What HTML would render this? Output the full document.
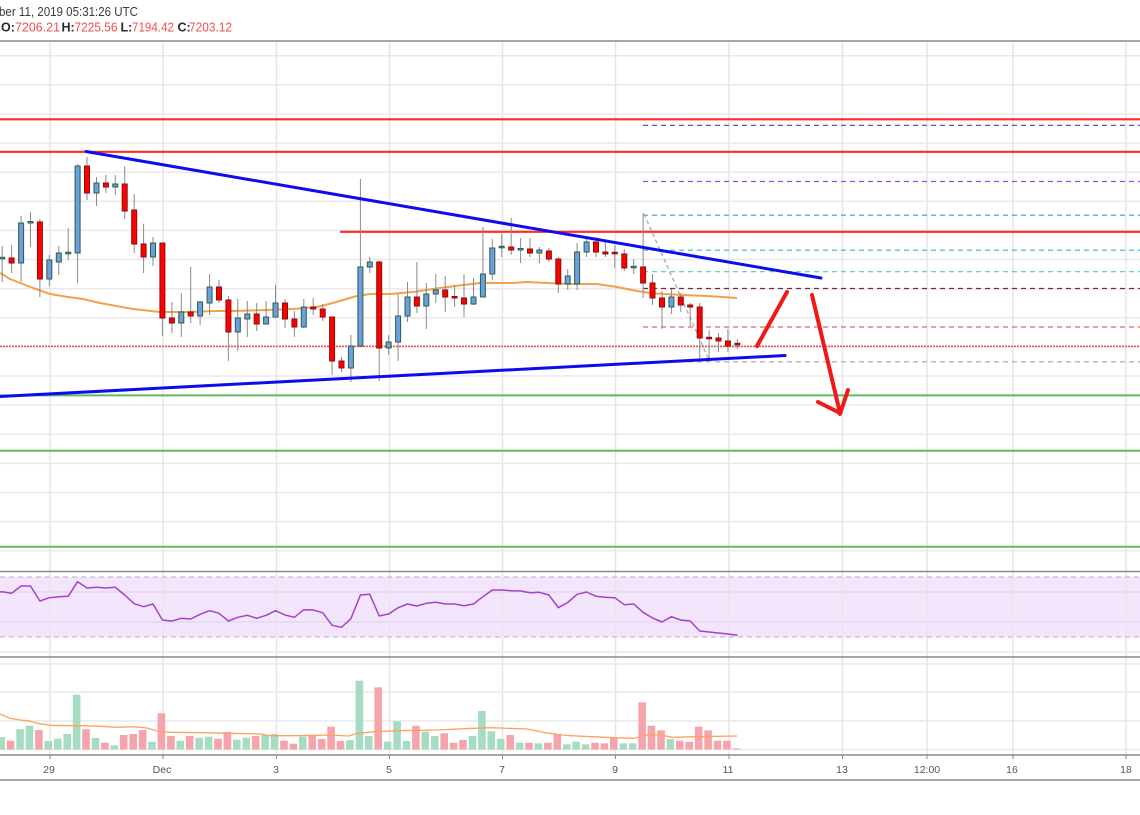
<!DOCTYPE html>
<html>
<head>
<meta charset="utf-8">
<style>
html,body{margin:0;padding:0;background:#fff;}
body{width:1140px;height:815px;overflow:hidden;}
svg{display:block;font-family:"Liberation Sans",Arial,sans-serif;}
.b{fill:#6b9fdf;stroke:#2f5d4a;stroke-width:1}
.r{fill:#ff0000;stroke:#8a1010;stroke-width:1}
.vg{fill:#a6dcc2}
.vr{fill:#f5a4ab}
</style>
</head>
<body>
<svg width="1140" height="815" viewBox="0 0 1140 815" xmlns="http://www.w3.org/2000/svg">
<rect x="0" y="0" width="1140" height="815" fill="#fff"/>

<!-- header -->
<text x="-1" y="16" font-size="12.5" fill="#3a3a3a" textLength="139" lengthAdjust="spacingAndGlyphs">ber 11, 2019 05:31:26 UTC</text>
<g font-size="12.5">
<text x="1" y="31.5" fill="#2a2a2a" font-weight="bold">O:</text>
<text x="15" y="31.5" fill="#ef4f4f" textLength="45" lengthAdjust="spacingAndGlyphs">7206.21</text>
<text x="61.5" y="31.5" fill="#2a2a2a" font-weight="bold">H:</text>
<text x="74.5" y="31.5" fill="#ef4f4f" textLength="43" lengthAdjust="spacingAndGlyphs">7225.56</text>
<text x="120.5" y="31.5" fill="#2a2a2a" font-weight="bold">L:</text>
<text x="132" y="31.5" fill="#ef4f4f" textLength="42" lengthAdjust="spacingAndGlyphs">7194.42</text>
<text x="177.5" y="31.5" fill="#2a2a2a" font-weight="bold">C:</text>
<text x="189" y="31.5" fill="#ef4f4f" textLength="43" lengthAdjust="spacingAndGlyphs">7203.12</text>
</g>

<!-- RSI band -->
<rect x="0" y="577" width="1140" height="60" fill="#f3e6fc"/>

<!-- grid horizontal main -->
<g stroke="#e9e9e9" stroke-width="1.5">
<line x1="0" y1="55.7" x2="1140" y2="55.7"/>
<line x1="0" y1="84.8" x2="1140" y2="84.8"/>
<line x1="0" y1="113.9" x2="1140" y2="113.9"/>
<line x1="0" y1="143.1" x2="1140" y2="143.1"/>
<line x1="0" y1="172.2" x2="1140" y2="172.2"/>
<line x1="0" y1="201.3" x2="1140" y2="201.3"/>
<line x1="0" y1="230.4" x2="1140" y2="230.4"/>
<line x1="0" y1="259.5" x2="1140" y2="259.5"/>
<line x1="0" y1="288.7" x2="1140" y2="288.7"/>
<line x1="0" y1="317.8" x2="1140" y2="317.8"/>
<line x1="0" y1="346.9" x2="1140" y2="346.9"/>
<line x1="0" y1="376" x2="1140" y2="376"/>
<line x1="0" y1="405.1" x2="1140" y2="405.1"/>
<line x1="0" y1="434.3" x2="1140" y2="434.3"/>
<line x1="0" y1="463.4" x2="1140" y2="463.4"/>
<line x1="0" y1="492.5" x2="1140" y2="492.5"/>
<line x1="0" y1="521.6" x2="1140" y2="521.6"/>
<line x1="0" y1="550.7" x2="1140" y2="550.7"/>
<!-- RSI grid -->
<line x1="0" y1="592" x2="1140" y2="592" stroke="#e4d8ee"/>
<line x1="0" y1="622" x2="1140" y2="622" stroke="#e4d8ee"/>
<line x1="0" y1="652" x2="1140" y2="652"/>
<!-- volume grid -->
<line x1="0" y1="664" x2="1140" y2="664"/>
<line x1="0" y1="692" x2="1140" y2="692"/>
<line x1="0" y1="721" x2="1140" y2="721"/>
<line x1="0" y1="749.5" x2="1140" y2="749.5"/>
</g>
<!-- grid vertical -->
<g stroke="#e6e6e6" stroke-width="1.5">
<line x1="50" y1="41" x2="50" y2="755"/>
<line x1="163" y1="41" x2="163" y2="755"/>
<line x1="276.5" y1="41" x2="276.5" y2="755"/>
<line x1="389.5" y1="41" x2="389.5" y2="755"/>
<line x1="502.5" y1="41" x2="502.5" y2="755"/>
<line x1="615.5" y1="41" x2="615.5" y2="755"/>
<line x1="729" y1="41" x2="729" y2="755"/>
<line x1="842.5" y1="41" x2="842.5" y2="755"/>
<line x1="927" y1="41" x2="927" y2="755"/>
<line x1="1013" y1="41" x2="1013" y2="755"/>
<line x1="1126" y1="41" x2="1126" y2="755"/>
</g>

<!-- RSI dashed bounds -->
<g stroke="#c9b6d6" stroke-width="1.2" stroke-dasharray="5,4">
<line x1="0" y1="577" x2="1140" y2="577"/>
<line x1="0" y1="637" x2="1140" y2="637"/>
</g>

<!-- panel borders -->
<g stroke="#8a8a8a" stroke-width="1.5">
<line x1="0" y1="41" x2="1140" y2="41"/>
<line x1="0" y1="571.5" x2="1140" y2="571.5"/>
<line x1="0" y1="657" x2="1140" y2="657"/>
<line x1="0" y1="755" x2="1140" y2="755"/>
<line x1="0" y1="780" x2="1140" y2="780"/>
</g>
<!-- axis ticks -->
<g stroke="#8a8a8a" stroke-width="1">
<line x1="50" y1="755" x2="50" y2="759"/>
<line x1="163" y1="755" x2="163" y2="759"/>
<line x1="276.5" y1="755" x2="276.5" y2="759"/>
<line x1="389.5" y1="755" x2="389.5" y2="759"/>
<line x1="502.5" y1="755" x2="502.5" y2="759"/>
<line x1="615.5" y1="755" x2="615.5" y2="759"/>
<line x1="729" y1="755" x2="729" y2="759"/>
<line x1="842.5" y1="755" x2="842.5" y2="759"/>
<line x1="927" y1="755" x2="927" y2="759"/>
<line x1="1013" y1="755" x2="1013" y2="759"/>
<line x1="1126" y1="755" x2="1126" y2="759"/>
</g>
<!-- axis labels -->
<g font-size="10.5" fill="#555" text-anchor="middle">
<text x="49" y="773">29</text>
<text x="162" y="773">Dec</text>
<text x="276" y="773">3</text>
<text x="389" y="773">5</text>
<text x="502" y="773">7</text>
<text x="615" y="773">9</text>
<text x="728" y="773">11</text>
<text x="842" y="773">13</text>
<text x="927" y="773">12:00</text>
<text x="1012" y="773">16</text>
<text x="1126" y="773">18</text>
</g>

<!-- horizontal S/R lines -->
<g stroke="#ff2a2a" stroke-width="2.2">
<line x1="0" y1="119.3" x2="1140" y2="119.3"/>
<line x1="0" y1="151.8" x2="1140" y2="151.8"/>
<line x1="340" y1="231.8" x2="1140" y2="231.8"/>
</g>
<g stroke="#5fba60" stroke-width="2">
<line x1="0" y1="395.4" x2="1140" y2="395.4"/>
<line x1="0" y1="450.8" x2="1140" y2="450.8"/>
<line x1="0" y1="546.8" x2="1140" y2="546.8"/>
</g>

<!-- fib dashed lines -->
<g stroke-width="1.2" stroke-dasharray="5,4">
<line x1="643" y1="125.3" x2="1140" y2="125.3" stroke="#4545b0"/>
<line x1="643" y1="181.5" x2="1140" y2="181.5" stroke="#a046d0"/>
<line x1="643" y1="215.2" x2="1140" y2="215.2" stroke="#4a92c8"/>
<line x1="643" y1="250.2" x2="1140" y2="250.2" stroke="#40aee2"/>
<line x1="643" y1="271.7" x2="1140" y2="271.7" stroke="#4fd0a2"/>
<line x1="643" y1="288.5" x2="1140" y2="288.5" stroke="#7a2545"/>
<line x1="643" y1="327" x2="1140" y2="327" stroke="#e26464"/>
<line x1="643" y1="361.8" x2="1140" y2="361.8" stroke="#a5a5a5"/>
</g>
<line x1="644" y1="214" x2="709" y2="360" stroke="#aaaaaa" stroke-width="1.3" stroke-dasharray="4,3"/>

<!-- current price dotted -->
<line x1="0" y1="346.3" x2="1140" y2="346.3" stroke="#f25555" stroke-width="1.6" stroke-dasharray="2,1"/>

<!-- volume bars -->
<g>
<rect class="vg" x="-2.6" y="737" width="7.6" height="12.5"/>
<rect class="vr" x="6.8" y="740.7" width="7.6" height="8.8"/>
<rect class="vg" x="16.3" y="729.3" width="7.6" height="20.2"/>
<rect class="vg" x="25.7" y="725.7" width="7.6" height="23.8"/>
<rect class="vr" x="35.1" y="730" width="7.6" height="19.5"/>
<rect class="vg" x="44.5" y="741" width="7.6" height="8.5"/>
<rect class="vg" x="54" y="738.7" width="7.6" height="10.8"/>
<rect class="vg" x="63.4" y="734" width="7.6" height="15.5"/>
<rect class="vg" x="72.8" y="694.7" width="7.6" height="54.8"/>
<rect class="vr" x="82.2" y="729.3" width="7.6" height="20.2"/>
<rect class="vg" x="91.7" y="738" width="7.6" height="11.5"/>
<rect class="vr" x="101.1" y="742.7" width="7.6" height="6.8"/>
<rect class="vg" x="110.5" y="745.3" width="7.6" height="4.2"/>
<rect class="vr" x="119.9" y="735" width="7.6" height="14.5"/>
<rect class="vr" x="129.4" y="734" width="7.6" height="15.5"/>
<rect class="vr" x="138.8" y="730" width="7.6" height="19.5"/>
<rect class="vg" x="148.2" y="741.7" width="7.6" height="7.8"/>
<rect class="vr" x="157.6" y="713.3" width="7.6" height="36.2"/>
<rect class="vr" x="167.1" y="736" width="7.6" height="13.5"/>
<rect class="vg" x="176.5" y="740.7" width="7.6" height="8.8"/>
<rect class="vr" x="185.9" y="736" width="7.6" height="13.5"/>
<rect class="vg" x="195.3" y="737.7" width="7.6" height="11.8"/>
<rect class="vg" x="204.8" y="736.7" width="7.6" height="12.8"/>
<rect class="vr" x="214.2" y="738.7" width="7.6" height="10.8"/>
<rect class="vr" x="223.6" y="732" width="7.6" height="17.5"/>
<rect class="vg" x="233" y="739.7" width="7.6" height="9.8"/>
<rect class="vg" x="242.5" y="737.7" width="7.6" height="11.8"/>
<rect class="vr" x="251.9" y="736" width="7.6" height="13.5"/>
<rect class="vg" x="261.3" y="735" width="7.6" height="14.5"/>
<rect class="vg" x="270.7" y="734" width="7.6" height="15.5"/>
<rect class="vr" x="280.2" y="740.7" width="7.6" height="8.8"/>
<rect class="vr" x="289.6" y="743.7" width="7.6" height="5.8"/>
<rect class="vg" x="299" y="736.7" width="7.6" height="12.8"/>
<rect class="vr" x="308.4" y="735" width="7.6" height="14.5"/>
<rect class="vr" x="317.9" y="739" width="7.6" height="10.5"/>
<rect class="vr" x="327.3" y="726.7" width="7.6" height="22.8"/>
<rect class="vr" x="336.7" y="741" width="7.6" height="8.5"/>
<rect class="vg" x="346.1" y="740" width="7.6" height="9.5"/>
<rect class="vg" x="355.6" y="680.7" width="7.6" height="68.8"/>
<rect class="vg" x="365" y="736" width="7.6" height="13.5"/>
<rect class="vr" x="374.4" y="687.3" width="7.6" height="62.2"/>
<rect class="vg" x="383.8" y="741.7" width="7.6" height="7.8"/>
<rect class="vg" x="393.3" y="721.3" width="7.6" height="28.2"/>
<rect class="vg" x="402.7" y="741" width="7.6" height="8.5"/>
<rect class="vr" x="412.1" y="725.7" width="7.6" height="23.8"/>
<rect class="vg" x="421.5" y="731.7" width="7.6" height="17.8"/>
<rect class="vg" x="431" y="736" width="7.6" height="13.5"/>
<rect class="vr" x="440.4" y="733.3" width="7.6" height="16.2"/>
<rect class="vr" x="449.8" y="742.7" width="7.6" height="6.8"/>
<rect class="vr" x="459.2" y="740" width="7.6" height="9.5"/>
<rect class="vg" x="468.7" y="736" width="7.6" height="13.5"/>
<rect class="vg" x="478.1" y="711" width="7.6" height="38.5"/>
<rect class="vg" x="487.5" y="731.3" width="7.6" height="18.2"/>
<rect class="vg" x="496.9" y="739" width="7.6" height="10.5"/>
<rect class="vr" x="506.4" y="735" width="7.6" height="14.5"/>
<rect class="vg" x="515.8" y="742.7" width="7.6" height="6.8"/>
<rect class="vr" x="525.2" y="742.7" width="7.6" height="6.8"/>
<rect class="vg" x="534.6" y="743.3" width="7.6" height="6.2"/>
<rect class="vr" x="544.1" y="742.7" width="7.6" height="6.8"/>
<rect class="vr" x="553.5" y="734" width="7.6" height="15.5"/>
<rect class="vg" x="562.9" y="744.3" width="7.6" height="5.2"/>
<rect class="vg" x="572.3" y="741.7" width="7.6" height="7.8"/>
<rect class="vg" x="581.8" y="744.3" width="7.6" height="5.2"/>
<rect class="vr" x="591.2" y="742.7" width="7.6" height="6.8"/>
<rect class="vr" x="600.6" y="743.3" width="7.6" height="6.2"/>
<rect class="vr" x="610" y="737.3" width="7.6" height="12.2"/>
<rect class="vg" x="619.5" y="743.3" width="7.6" height="6.2"/>
<rect class="vg" x="628.9" y="743.3" width="7.6" height="6.2"/>
<rect class="vr" x="638.3" y="702.3" width="7.6" height="47.2"/>
<rect class="vr" x="647.7" y="725.7" width="7.6" height="23.8"/>
<rect class="vr" x="657.2" y="730.3" width="7.6" height="19.2"/>
<rect class="vg" x="666.6" y="739" width="7.6" height="10.5"/>
<rect class="vr" x="676" y="740.7" width="7.6" height="8.8"/>
<rect class="vr" x="685.4" y="741.7" width="7.6" height="7.8"/>
<rect class="vr" x="694.9" y="726.7" width="7.6" height="22.8"/>
<rect class="vr" x="704.3" y="730.3" width="7.6" height="19.2"/>
<rect class="vr" x="713.7" y="740.7" width="7.6" height="8.8"/>
<rect class="vr" x="723.1" y="740.7" width="7.6" height="8.8"/>
<rect class="vr" x="732.6" y="748.3" width="7.6" height="1.2"/>
</g>
<!-- volume MA -->
<polyline fill="none" stroke="#ffa060" stroke-width="1.3" points="0,714 10,718.3 20,720 28,720.7 37,723.3 50,725.3 67,725.7 83,725.7 100,726.3 117,727.3 133,726.7 147,728 160,731.7 173,732.3 200,732.7 233,733.3 260,734 270,735.7 300,735.7 327,735 349,736 358,733.3 374.5,731.7 400,730.7 436,730 473,728.3 491,727.7 527,729 545.5,732.7 562,735 570,735.7 592,736.7 614,737.7 634,738.3 646,735 661,735 672,737.3 697,736.7 737,736"/>

<!-- RSI line -->
<polyline fill="none" stroke="#a443c8" stroke-width="1.5" stroke-linejoin="round" points="0,592 2.2,591.7 11.6,593.3 21.1,586 30.5,586 39.9,601 49.3,597.7 58.8,596.7 68.2,596.3 77.6,581.7 87,588 96.5,587.3 105.9,588 115.3,587.3 124.7,595 134.2,603.7 143.6,606.7 153,604 162.4,620 171.9,621 181.3,618.3 190.7,619 200.1,614.3 209.6,610.7 219,613.3 228.4,621 237.8,617.3 247.3,615.3 256.7,618.3 266.1,615.3 275.5,610.7 285,615 294.4,617.3 303.8,609.7 313.2,610 322.7,612.7 332.1,625.3 341.5,627.3 350.9,618.7 360.4,595 369.8,594.3 379.2,616 388.6,614 398.1,607.7 407.5,604 416.9,606 426.3,603.3 435.8,602.3 445.2,604 454.6,604 464,605.7 473.5,604 482.9,596.7 492.3,590 501.7,590 511.2,590.7 520.6,591 530,592.7 539.4,592.3 548.9,595 558.3,607.7 567.7,602.5 577.1,594.3 586.6,592 596,596.3 605.4,597.3 614.8,597.7 624.3,604.7 633.7,604 643.1,612.3 652.5,618 662,622 671.4,616.7 680.8,620 690.2,621 699.7,631 709.1,632 718.5,633 727.9,634 737.4,635.3"/>

<!-- EMA -->
<polyline fill="none" stroke="#f3a04c" stroke-width="2" stroke-linejoin="round" points="0,273 10,279 33,288 50,294 68,297 83,299 100,303 133,309 160,312 187,312 217,311 233,311 267,310 293,309 317,307 333,303 343,300 357,296 370,294 390,294 413,292 440,288 463,285 480,283 513,283 527,282 547,283 570,284 597,284 617,287 637,291 650,293 663,294 683,295 707,296 737,298"/>

<!-- wicks -->
<path fill="none" stroke="#8a8a8a" stroke-width="1" d="M2.2 246V282M11.6 245V273M21.1 216V282M30.5 212V247M39.9 219V297M49.3 255V286M58.8 246V275M68.2 228V260M77.6 164V283M87 157V200M96.5 177V206M105.9 175V193M115.3 175V195M124.7 166V219M134.2 194V253M143.6 224V273M153 237V266M162.4 243V336M171.9 302V333M181.3 293V337M190.7 267V323M200.1 301V325M209.6 274V315M219 280V303M228.4 296V361M237.8 299V351M247.3 301V337M256.7 303V331M266.1 301V324M275.5 285V317M285 299V328M294.4 311V337M303.8 299V328M313.2 298V315M322.7 304V321M332.1 317V375M341.5 357V372M350.9 335V382M360.4 179V347M369.8 257V273M379.2 261V381M388.6 335V355M398.1 294V361M407.5 282V322M416.9 262V313M426.3 283V329M435.8 274V303M445.2 276V312M454.6 285V307M464 274V317M473.5 278V305M482.9 227V297M492.3 239V280M501.7 234V257M511.2 218V255M520.6 238V263M530 238V257M539.4 247V263M548.9 248V262M558.3 257V293M567.7 269V290M577.1 243V290M586.6 237V257M596 237V257M605.4 242V257M614.8 245V268M624.3 249V271M633.7 259V274M643.1 213V298M652.5 274V305M662 291V329M671.4 289V314M680.8 293V312M690.2 303V326M699.7 303V361M709.1 330V361M718.5 333V352M727.9 329V352M737.4 339V349"/>

<!-- bodies -->
<g>
<rect class="b" x="-0.3" y="257.3" width="5" height="1.5"/>
<rect class="r" x="9.1" y="258" width="5" height="5"/>
<rect class="b" x="18.6" y="223" width="5" height="40"/>
<rect class="b" x="28" y="221.5" width="5" height="1.5"/>
<rect class="r" x="37.4" y="222" width="5" height="57"/>
<rect class="b" x="46.8" y="260" width="5" height="19"/>
<rect class="b" x="56.3" y="253" width="5" height="9"/>
<rect class="b" x="65.7" y="252.3" width="5" height="1.5"/>
<rect class="b" x="75.1" y="166" width="5" height="87"/>
<rect class="r" x="84.5" y="166" width="5" height="27"/>
<rect class="b" x="94" y="183" width="5" height="10"/>
<rect class="r" x="103.4" y="183" width="5" height="4"/>
<rect class="b" x="112.8" y="184" width="5" height="3"/>
<rect class="r" x="122.2" y="184" width="5" height="27"/>
<rect class="r" x="131.7" y="210" width="5" height="34"/>
<rect class="r" x="141.1" y="244" width="5" height="13"/>
<rect class="b" x="150.5" y="243" width="5" height="14"/>
<rect class="r" x="159.9" y="243" width="5" height="75"/>
<rect class="r" x="169.4" y="318" width="5" height="5"/>
<rect class="b" x="178.8" y="312" width="5" height="11"/>
<rect class="r" x="188.2" y="312" width="5" height="4"/>
<rect class="b" x="197.6" y="302" width="5" height="14"/>
<rect class="b" x="207.1" y="287" width="5" height="16"/>
<rect class="r" x="216.5" y="287" width="5" height="13"/>
<rect class="r" x="225.9" y="300" width="5" height="32"/>
<rect class="b" x="235.3" y="318" width="5" height="14"/>
<rect class="b" x="244.8" y="314" width="5" height="5"/>
<rect class="r" x="254.2" y="314" width="5" height="10"/>
<rect class="b" x="263.6" y="317" width="5" height="7"/>
<rect class="b" x="273" y="303" width="5" height="14"/>
<rect class="r" x="282.5" y="303" width="5" height="16"/>
<rect class="r" x="291.9" y="319" width="5" height="8"/>
<rect class="b" x="301.3" y="307" width="5" height="20"/>
<rect class="r" x="310.7" y="307" width="5" height="2"/>
<rect class="r" x="320.2" y="309" width="5" height="8"/>
<rect class="r" x="329.6" y="317" width="5" height="44"/>
<rect class="r" x="339" y="361" width="5" height="7"/>
<rect class="b" x="348.4" y="346" width="5" height="22"/>
<rect class="b" x="357.9" y="267" width="5" height="79"/>
<rect class="b" x="367.3" y="262" width="5" height="5"/>
<rect class="r" x="376.7" y="262" width="5" height="86"/>
<rect class="b" x="386.1" y="342" width="5" height="6"/>
<rect class="b" x="395.6" y="316" width="5" height="26"/>
<rect class="b" x="405" y="297" width="5" height="19"/>
<rect class="r" x="414.4" y="297" width="5" height="9"/>
<rect class="b" x="423.8" y="294" width="5" height="12"/>
<rect class="b" x="433.3" y="290" width="5" height="4"/>
<rect class="r" x="442.7" y="290" width="5" height="7"/>
<rect class="r" x="452.1" y="296.5" width="5" height="1.5"/>
<rect class="r" x="461.5" y="298" width="5" height="6"/>
<rect class="b" x="471" y="297" width="5" height="7"/>
<rect class="b" x="480.4" y="274" width="5" height="23"/>
<rect class="b" x="489.8" y="248" width="5" height="26"/>
<rect class="b" x="499.2" y="246.3" width="5" height="1.5"/>
<rect class="r" x="508.7" y="247" width="5" height="3"/>
<rect class="b" x="518.1" y="248.5" width="5" height="1.5"/>
<rect class="r" x="527.5" y="249" width="5" height="4"/>
<rect class="b" x="536.9" y="250" width="5" height="3"/>
<rect class="r" x="546.4" y="251" width="5" height="8"/>
<rect class="r" x="555.8" y="259" width="5" height="25"/>
<rect class="b" x="565.2" y="276" width="5" height="8"/>
<rect class="b" x="574.6" y="252" width="5" height="32"/>
<rect class="b" x="584.1" y="242" width="5" height="10"/>
<rect class="r" x="593.5" y="242" width="5" height="10"/>
<rect class="r" x="602.9" y="252" width="5" height="2"/>
<rect class="r" x="612.3" y="252.3" width="5" height="1.5"/>
<rect class="r" x="621.8" y="254" width="5" height="14"/>
<rect class="b" x="631.2" y="266.3" width="5" height="1.5"/>
<rect class="r" x="640.6" y="267" width="5" height="16"/>
<rect class="r" x="650" y="283" width="5" height="15"/>
<rect class="r" x="659.5" y="298" width="5" height="9"/>
<rect class="b" x="668.9" y="297" width="5" height="10"/>
<rect class="r" x="678.3" y="297" width="5" height="8"/>
<rect class="r" x="687.7" y="305" width="5" height="2"/>
<rect class="r" x="697.2" y="307" width="5" height="31"/>
<rect class="r" x="706.6" y="337.3" width="5" height="1.5"/>
<rect class="r" x="716" y="338" width="5" height="3"/>
<rect class="r" x="725.4" y="341" width="5" height="5"/>
<rect class="r" x="734.9" y="343.3" width="5" height="1.5"/>
</g>

<!-- trend lines -->
<g stroke="#0c0cee" stroke-width="3" stroke-linecap="round">
<line x1="86" y1="151.5" x2="821" y2="278"/>
<line x1="-2" y1="396.6" x2="785" y2="355.5"/>
</g>

<!-- red arrows -->
<g stroke="#f01818" stroke-width="4" stroke-linecap="round" fill="none">
<line x1="757" y1="346" x2="787" y2="292"/>
<line x1="812" y1="295" x2="840" y2="413"/>
<line x1="818" y1="402" x2="840" y2="413"/>
<line x1="848" y1="390" x2="840" y2="414"/>
</g>
</svg>
</body>
</html>
